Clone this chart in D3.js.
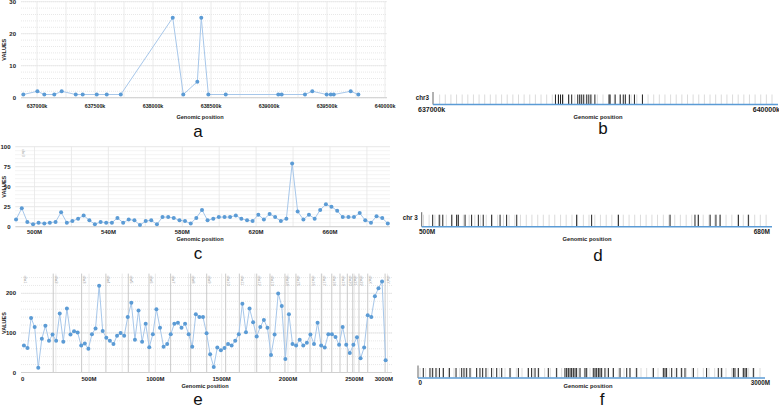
<!DOCTYPE html>
<html><head><meta charset="utf-8">
<script src="https://cdn.jsdelivr.net/npm/d3@7"></script>
<style>body{margin:0;background:#fff}svg{display:block}text{font-family:"Liberation Sans",Arial,sans-serif}</style>
</head><body><svg id="chart" width="779" height="409"></svg>
<script>
// ---------- Panel a: chr3 637,000k-640,000k (positions in k) ----------
const aPos = [636882,637003,637063,637149,637213,637334,637394,637515,637601,637722,638170,638261,638382,638416,638477,638627,639080,639109,639310,639373,639497,639532,639558,639704,639770];
const aVal = [1,2,1,1,2,1,1,1,1,1,25,1,5,25,1,1,1,1,1,2,1,1,1,2,1];
const aXTicks = [637000,637500,638000,638500,639000,639500,640000];
const aYTicks = [0,10,20,30];

// ---------- Panel b: marker track for a (positions in k) ----------
const bMarks = [638078,638105,638123,638141,638195,638222,638276,638293,638311,638329,638356,638374,638392,638428,638554,638563,638608,638653,638680,638698,638734,638779,638850];
const bTicks = [637000,640000];

// ---------- Panel c: chr3 region (positions in M) ----------
const cPos = [490.0,493.1,496.1,499.2,502.2,505.3,508.3,511.4,514.4,517.5,520.5,523.6,526.6,529.7,532.7,535.8,538.8,541.9,544.9,548.0,551.0,554.1,557.1,560.2,563.2,566.3,569.3,572.4,575.4,578.5,581.5,584.6,587.6,590.7,593.7,596.8,599.8,602.9,605.9,609.0,612.0,615.1,618.1,621.2,624.2,627.3,630.3,633.4,636.4,639.5,642.5,645.6,648.6,651.7,654.7,657.8,660.8,663.9,666.9,670.0,673.0,676.1,679.1,682.2,685.2,688.3,691.3];
const cVal = [9,23,6,3,5,4,5,6,18,5,7,10,14,8,3,6,5,5,11,5,9,8,2,7,8,3,12,12,11,8,7,4,11,21,8,10,12,12,12,14,10,8,7,15,9,16,12,7,10,79,19,9,15,10,21,28,25,20,12,12,12,17,8,5,13,11,4];
const cXTicks = [500,540,580,620,660];
const cYTicks = [0,25,50,75,100];

// ---------- Panel d: marker track for c (positions in M) ----------
const dMarks = [504.1,507.6,509.5,514.3,516.9,517.8,521.4,524.9,528.5,531.1,535.6,540.1,543.6,549.0,581.0,589.0,603.3,630.9,644.2,646.0,652.3,655.4,657.6,667.4,672.7];
const dTicks = [500,680];

// ---------- Panel e: genome-wide (positions in M) ----------
const ePos = [9,36,63,90,117,144,171,198,225,252,279,306,333,360,387,414,441,468,495,522,549,576,603,630,657,684,711,738,765,792,819,846,873,900,927,954,981,1008,1035,1062,1089,1116,1143,1170,1197,1224,1251,1278,1305,1332,1359,1386,1413,1440,1467,1494,1521,1548,1575,1602,1629,1656,1683,1710,1737,1764,1791,1818,1845,1872,1899,1926,1953,1980,2007,2034,2061,2088,2115,2142,2169,2196,2223,2250,2277,2304,2331,2358,2385,2412,2439,2466,2493,2520,2547,2574,2601,2628,2655,2682,2709,2736];
const eVal = [68,62,138,115,12,85,118,80,96,80,149,78,162,96,104,101,68,73,60,97,111,219,105,88,80,72,93,100,93,140,176,83,157,78,123,64,97,160,113,65,72,97,123,126,113,123,97,65,147,140,140,99,46,14,63,56,62,72,68,80,97,174,102,162,127,91,115,133,113,44,96,200,168,34,147,72,68,83,68,75,96,72,126,68,63,97,97,90,70,115,70,49,70,89,36,63,145,140,193,213,230,31];
const eXTicks = [0,500,1000,1500,2000,2500,3000];
const eYTicks = [0,100,200];
const chrNames = ["chr1","chr2","chr3","chr4","chr5","chr6","chr7","chr8","chr9","chr10","chr11","chr12","chr13","chr14","chr15","chr16","chr17","chr18","chr19","chr20","chr21","chr22","chrX","chrY"];
const chrStarts = [0,230,444,627,796,952,1115,1266,1387,1530,1633,1764,1864,1977,2060,2166,2254,2330,2392,2447,2488,2535,2601,2732];

// ---------- Panel f: genome-wide marker track (positions in M) ----------
const fMarks = [29,88,112,141,171,206,259,318,368,388,412,441,500,529,553,582,632,677,721,794,868,956,985,1015,1044,1132,1206,1279,1294,1309,1324,1338,1353,1368,1382,1412,1456,1471,1529,1544,1559,1574,1588,1603,1632,1662,1706,1765,1824,1853,1912,2059,2147,2162,2176,2221,2265,2309,2338,2412,2529,2632,2662,2765,2779,2809,2853,2868,2882,2941];
const fTicks = [0,3000];

const svg = d3.select("#chart");
const LINE = "#a7c7ea", DOT = "#5b9bd5", GRID = "#e6e6e6", TXT = "#222";
const LETTER = 17;

function lineChart(o) {
  const g = svg.append("g");
  const x = d3.scaleLinear().domain(o.xDomain).range(o.xRange);
  const y = d3.scaleLinear().domain(o.yDomain).range(o.yRange);
  g.selectAll("line.hm").data(d3.range(o.yDomain[0], o.yDomain[1] + 1e-9, o.yMinor)).join("line")
    .attr("x1", o.xRange[0]).attr("x2", o.xRange[1]).attr("y1", d => y(d)).attr("y2", d => y(d))
    .attr("stroke", "#e2e2e2").attr("stroke-dasharray", "1,1").attr("stroke-width", 0.8);
  g.selectAll("line.hM").data(o.yTicks).join("line")
    .attr("x1", o.xRange[0]).attr("x2", o.xRange[1]).attr("y1", d => y(d)).attr("y2", d => y(d))
    .attr("stroke", GRID).attr("stroke-width", 0.8);
  g.selectAll("line.v").data(o.vGrid.filter(d => x(d) >= o.xRange[0] && x(d) <= o.xRange[1])).join("line")
    .attr("x1", d => x(d)).attr("x2", d => x(d)).attr("y1", o.yRange[1]).attr("y2", o.yRange[0])
    .attr("stroke", GRID).attr("stroke-width", 0.8);
  if (o.extra) o.extra(g, x, y);
  g.append("line").attr("x1", o.xRange[0]).attr("x2", o.xRange[1])
    .attr("y1", y(0)).attr("y2", y(0)).attr("stroke", "#d0d0d0").attr("stroke-width", 1);
  const pts = o.pos.map((p, i) => [p, o.val[i]]);
  g.append("path").datum(pts).attr("fill", "none").attr("stroke", LINE).attr("stroke-width", 1)
    .attr("d", d3.line().x(d => x(d[0])).y(d => y(d[1])));
  g.selectAll("circle").data(pts).join("circle")
    .attr("cx", d => x(d[0])).attr("cy", d => y(d[1])).attr("r", 2).attr("fill", DOT);
  g.selectAll("text.yt").data(o.yTicks).join("text")
    .attr("x", o.xRange[0] - 5).attr("y", d => y(d) + 2).attr("text-anchor", "end")
    .attr("font-size", 6).attr("font-weight", "bold").attr("fill", TXT).text(d => d);
  g.selectAll("text.xt").data(o.xTicks).join("text")
    .attr("x", d => x(d) > o.xRange[1] ? o.xRange[1] + 1 : x(d))
    .attr("text-anchor", d => x(d) > o.xRange[1] ? "end" : "middle")
    .attr("y", y(0) + o.xLabDy).attr("font-size", o.xFont).attr("font-weight", "bold").attr("fill", TXT)
    .text(o.fmt);
  g.append("text").attr("transform", `translate(6,${(o.yRange[0] + o.yRange[1]) / 2}) rotate(-90)`)
    .attr("text-anchor", "middle").attr("font-size", 5.5).attr("font-weight", "bold").attr("fill", TXT).text("VALUES");
  g.append("text").attr("x", o.titleX).attr("y", y(0) + o.titleDy).attr("text-anchor", "middle")
    .attr("font-size", 5.6).attr("font-weight", "bold").attr("fill", TXT).text("Genomic position");
  g.append("text").attr("x", 198).attr("y", o.letterY).attr("text-anchor", "middle")
    .attr("font-size", LETTER).attr("fill", "#111").text(o.letter);
}

function track(o) {
  const g = svg.append("g");
  const x = d3.scaleLinear().domain(o.domain).range(o.range);
  const top = o.base - o.h;
  g.selectAll("line.lt").data(o.light.filter(d => x(d) > o.barX + 1 && x(d) < o.lineEnd - 2)).join("line")
    .attr("x1", d => x(d)).attr("x2", d => x(d)).attr("y1", top + 1).attr("y2", o.base - 0.5)
    .attr("stroke", "#d2d2d2").attr("stroke-width", 0.8);
  g.selectAll("line.dk").data(o.marks).join("line")
    .attr("x1", d => x(d)).attr("x2", d => x(d)).attr("y1", top + 1).attr("y2", o.base - 0.5)
    .attr("stroke", "#222").attr("stroke-width", 1);
  g.append("line").attr("x1", o.barX).attr("x2", o.barX).attr("y1", top - 1.5).attr("y2", o.base)
    .attr("stroke", "#555").attr("stroke-width", 0.9);
  g.append("line").attr("x1", o.barX).attr("x2", o.lineEnd).attr("y1", o.base).attr("y2", o.base)
    .attr("stroke", "#5b9bd5").attr("stroke-width", 1.5);
  if (o.chr) g.append("text").attr("x", o.barX - 4).attr("y", top + 6).attr("text-anchor", "end")
    .attr("font-size", 6.3).attr("font-weight", "bold").attr("fill", TXT).text(o.chr);
  g.selectAll("text.t").data(o.ticks).join("text")
    .attr("x", d => x(d)).attr("y", o.base + 7).attr("text-anchor", (d, i) => i === 0 ? "start" : "end")
    .attr("dx", (d, i) => i === 0 ? o.firstDx : o.lastDx)
    .attr("font-size", o.tickFont).attr("font-weight", "bold").attr("fill", TXT).text(o.fmt);
  g.append("text").attr("x", o.titleX).attr("y", o.base + o.titleDy).attr("text-anchor", "middle")
    .attr("font-size", 5.8).attr("font-weight", "bold").attr("fill", TXT).text("Genomic position");
  g.append("text").attr("x", o.letterX).attr("y", o.letterY).attr("text-anchor", "middle")
    .attr("font-size", LETTER).attr("fill", "#111").text(o.letter);
}

lineChart({
  pos: aPos, val: aVal, xDomain: [636862, 640017], xRange: [21, 387], yDomain: [0, 30], yRange: [97.7, 1.7],
  yTicks: aYTicks, yMinor: 2, xTicks: aXTicks, vGrid: d3.range(637000, 640001, 250),
  fmt: d => d + "k", xFont: 5.3, xLabDy: 10.5, titleX: 200, titleDy: 21, letter: "a", letterY: 137
});
lineChart({
  pos: cPos, val: cVal, xDomain: [489.7, 692.5], xRange: [15.5, 390], yDomain: [0, 100], yRange: [226.7, 146.7],
  yTicks: cYTicks, yMinor: 5, xTicks: cXTicks, vGrid: d3.range(500, 700, 20),
  fmt: d => d + "M", xFont: 6, xLabDy: 7.5, titleX: 200, titleDy: 14.5, letter: "c", letterY: 259,
  extra: (g) => {
    g.append("text").attr("transform", "translate(21.5,149) rotate(90)").attr("font-size", 4)
      .attr("fill", "#aaa").text("chr3");
  }
});
lineChart({
  pos: ePos, val: eVal, xDomain: [-13, 2784], xRange: [21, 392], yDomain: [0, 250], yRange: [372.5, 273.6],
  yTicks: eYTicks, yMinor: 20, xTicks: eXTicks, vGrid: d3.range(250, 2800, 250),
  fmt: d => d === 0 ? "0" : d + "M", xFont: 6, xLabDy: 8, titleX: 205, titleDy: 15.5, letter: "e", letterY: 405,
  extra: (g, x, y) => {
    g.selectAll("line.chr").data(chrStarts.slice(1)).join("line")
      .attr("x1", d => x(d)).attr("x2", d => x(d)).attr("y1", y(250)).attr("y2", y(0))
      .attr("stroke", "#c4c4c4").attr("stroke-width", 0.9);
    g.selectAll("text.chr").data(chrStarts).join("text")
      .attr("transform", (d, i) => `translate(${x(d) + 1.5},${y(250) + 2}) rotate(90)`)
      .attr("font-size", 4).attr("fill", "#999").text((d, i) => chrNames[i]);
  }
});
const xb = d3.scaleLinear().domain([637000, 640000]).range([434, 772]);
track({
  domain: [637000, 640000], range: [434, 772], base: 104.5, h: 11, barX: 433, lineEnd: 778,
  light: xb.ticks(60), marks: bMarks, ticks: bTicks, fmt: d => d + "k", chr: "chr3",
  tickFont: 7, firstDx: -16, lastDx: 8, titleX: 598, titleDy: 14, letter: "b", letterX: 603, letterY: 134
});
track({
  domain: [500, 680], range: [425, 762], base: 226.7, h: 13, barX: 421.7, lineEnd: 772,
  light: cPos, marks: dMarks, ticks: dTicks, fmt: d => d + "M", chr: "chr 3",
  tickFont: 6.5, firstDx: -6, lastDx: 8, titleX: 587, titleDy: 14, letter: "d", letterX: 598, letterY: 261
});
const xf = d3.scaleLinear().domain([0, 3000]).range([420, 760]);
track({
  domain: [0, 3000], range: [420, 760], base: 378, h: 11, barX: 418, lineEnd: 765,
  light: xf.ticks(80), marks: fMarks, ticks: fTicks, fmt: d => d === 0 ? "0" : d + "M", chr: null,
  tickFont: 6.3, firstDx: -1.5, lastDx: 10, titleX: 588, titleDy: 10, letter: "f", letterX: 602, letterY: 405
});
</script></body></html>
